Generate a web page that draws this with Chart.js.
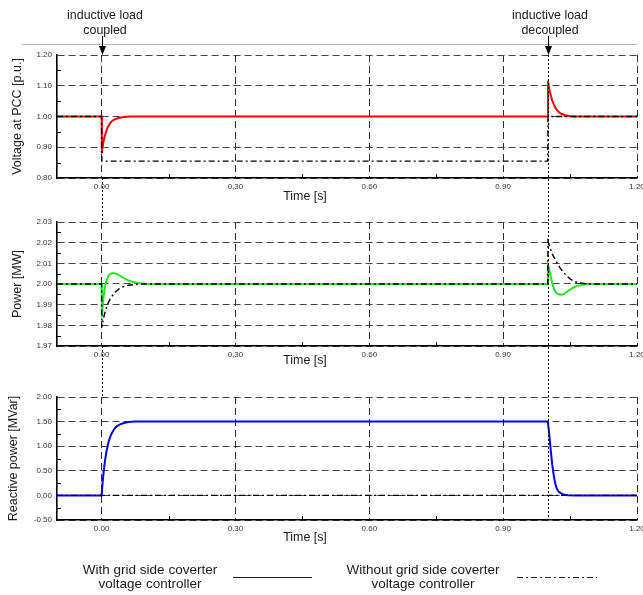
<!DOCTYPE html>
<html><head><meta charset="utf-8">
<script src="https://cdn.jsdelivr.net/npm/chart.js@4.4.0/dist/chart.umd.min.js"></script>
<style>
html,body{margin:0;padding:0;background:#fff;}
#wrap{position:relative;width:643px;height:595px;overflow:hidden;font-family:"Liberation Sans",Arial,sans-serif;color:#1a1a1a;}
#wrap canvas{position:absolute;left:0;}
.t{position:absolute;transform:translate(-50%,-50%);white-space:nowrap;text-align:center;line-height:1;}
</style></head><body>
<div id="wrap">
<canvas id="c1"></canvas>
<canvas id="c2"></canvas>
<canvas id="c3"></canvas>
<canvas id="ov" width="643" height="595" style="top:0"></canvas>
<div class="t" style="left:105px;top:15px;font-size:12.4px">inductive load</div>
<div class="t" style="left:105px;top:30px;font-size:12.4px">coupled</div>
<div class="t" style="left:550px;top:15px;font-size:12.4px">inductive load</div>
<div class="t" style="left:550px;top:30px;font-size:12.4px">decoupled</div>
<div class="t" style="left:305px;top:196px;font-size:12.4px">Time [s]</div>
<div class="t" style="left:305px;top:360px;font-size:12.4px">Time [s]</div>
<div class="t" style="left:305px;top:537px;font-size:12.4px">Time [s]</div>
<div class="t" style="left:150px;top:570px;font-size:13.5px">With grid side coverter</div>
<div class="t" style="left:150px;top:584px;font-size:13.5px">voltage controller</div>
<div class="t" style="left:423px;top:570px;font-size:13.5px">Without grid side coverter</div>
<div class="t" style="left:423px;top:584px;font-size:13.5px">voltage controller</div>
</div>
<script>
// ---------- DATA ----------
const xTicks = [0.00, 0.30, 0.60, 0.90, 1.20];
const xMinor = [0.15, 0.45, 0.75, 1.05];
const eventTimes = [0.00, 1.00];

const voltTicks = [0.80, 0.90, 1.00, 1.10, 1.20];
const voltMinor = [0.85, 0.95, 1.05, 1.15];
const powTicks = [1.97, 1.98, 1.99, 2.00, 2.01, 2.02, 2.03];
const powMinor = [1.975, 1.985, 1.995, 2.005, 2.015, 2.025];
const reacTicks = [-0.50, 0.00, 0.50, 1.00, 1.50, 2.00];
const reacMinor = [-0.25, 0.25, 0.75, 1.25, 1.75];

// Voltage at PCC, with controller (red)
const tVoltWith = [-0.10, 0.000, 0.0005, 0.002, 0.004, 0.006, 0.008, 0.010, 0.013, 0.016, 0.020, 0.025, 0.030, 0.040, 0.050, 0.065, 1.000, 1.0005, 1.003, 1.006, 1.010, 1.015, 1.020, 1.025, 1.030, 1.040, 1.050, 1.060, 1.200];
const voltWith  = [1.000, 1.000, 0.880, 0.900, 0.917, 0.930, 0.941, 0.950, 0.962, 0.971, 0.980, 0.987, 0.991, 0.996, 0.998, 1.000, 1.000, 1.116, 1.092, 1.072, 1.052, 1.034, 1.022, 1.014, 1.009, 1.004, 1.001, 1.000, 1.000];
// Voltage at PCC, without controller (black dash-dot)
const tVoltWithout = [-0.10, 0.000, 0.0005, 1.000, 1.0005, 1.200];
const voltWithout  = [1.000, 1.000, 0.855, 0.855, 1.000, 1.000];

// Power, with controller (green)
const tPowWith = [-0.10, 0.000, 0.0005, 0.002, 0.004, 0.007, 0.010, 0.015, 0.020, 0.027, 0.035, 0.045, 0.055, 0.065, 0.080, 0.100, 0.120, 1.000, 1.0005, 1.003, 1.006, 1.010, 1.015, 1.020, 1.027, 1.035, 1.045, 1.055, 1.065, 1.080, 1.100, 1.200];
const powWith  = [2.0000, 2.0000, 1.9840, 1.9880, 1.9930, 1.9980, 2.0010, 2.0040, 2.0050, 2.0053, 2.0048, 2.0035, 2.0022, 2.0013, 2.0005, 2.0001, 2.0000, 2.0000, 2.0092, 2.0075, 2.0040, 2.0005, 1.9970, 1.9955, 1.9948, 1.9950, 1.9965, 1.9980, 1.9990, 1.9997, 2.0000, 2.0000];
// Power, without controller (black dash-dot)
const tPowWithout = [-0.10, 0.000, 0.0005, 0.003, 0.006, 0.010, 0.015, 0.020, 0.030, 0.040, 0.050, 0.060, 0.080, 0.100, 1.000, 1.0005, 1.003, 1.006, 1.010, 1.015, 1.020, 1.030, 1.040, 1.050, 1.060, 1.070, 1.085, 1.100, 1.200];
const powWithout  = [2.0000, 2.0000, 1.9790, 1.9820, 1.9850, 1.9880, 1.9910, 1.9932, 1.9960, 1.9978, 1.9988, 1.9994, 1.9999, 2.0000, 2.0000, 2.0205, 2.0190, 2.0170, 2.0145, 2.0125, 2.0105, 2.0070, 2.0045, 2.0025, 2.0012, 2.0006, 2.0001, 2.0000, 2.0000];

// Reactive power, with controller (blue)
const tReacWith = [-0.10, 0.000, 0.002, 0.004, 0.006, 0.008, 0.010, 0.013, 0.016, 0.020, 0.025, 0.030, 0.035, 0.040, 0.050, 0.060, 0.075, 1.000, 1.002, 1.004, 1.006, 1.008, 1.010, 1.013, 1.016, 1.020, 1.025, 1.030, 1.035, 1.045, 1.060, 1.200];
const reacWith  = [0.00, 0.00, 0.24, 0.43, 0.59, 0.73, 0.85, 0.99, 1.10, 1.21, 1.30, 1.37, 1.41, 1.44, 1.47, 1.49, 1.50, 1.50, 1.36, 1.17, 0.98, 0.80, 0.63, 0.43, 0.27, 0.14, 0.07, 0.04, 0.02, 0.005, 0.00, 0.00];
// Reactive power, without controller (black dash-dot)
const tReacWithout = [-0.10, 1.20];
const reacWithout  = [0.00, 0.00];

// ---------- STYLE / LAYOUT ----------
const FONT = '"Liberation Sans", Arial, sans-serif';
const DASHDOT = [6, 3, 2, 3];
const GRIDDASH = [7, 4];
const pts = (ts, vs) => ts.map((t, i) => ({x: t, y: vs[i]}));

const minorTickPlugin = {
  id: 'minorTicks',
  afterDatasetsDraw(chart, args, opts) {
    const {ctx, chartArea: a, scales: {x, y}} = chart;
    ctx.save();
    ctx.strokeStyle = '#000';
    ctx.lineWidth = 1;
    ctx.beginPath();
    (opts.x || []).forEach(v => { const px = Math.round(x.getPixelForValue(v)) + 0.5; ctx.moveTo(px, a.bottom); ctx.lineTo(px, a.bottom - 4); });
    (opts.y || []).forEach(v => { const py = Math.round(y.getPixelForValue(v)) + 0.5; ctx.moveTo(a.left, py); ctx.lineTo(a.left + 4, py); });
    ctx.stroke();
    ctx.restore();
  }
};

function makePanel(id, area, cfg) {
  const cv = document.getElementById(id);
  const padTop = 10, xAxisH = 22;
  cv.width = 643;
  cv.height = padTop + (area.bottom - area.top) + xAxisH;
  cv.style.top = (area.top - padTop) + 'px';
  return new Chart(cv, {
    type: 'line',
    data: {
      datasets: [
        {data: cfg.without, borderColor: '#000', borderWidth: 1.4, borderDash: DASHDOT, pointRadius: 0, tension: 0, fill: false},
        {data: cfg.with, borderColor: cfg.color, borderWidth: 2, pointRadius: 0, tension: 0, fill: false}
      ]
    },
    options: {
      responsive: false, animation: false, devicePixelRatio: 1,
      layout: {padding: {top: padTop, right: 6, left: 0, bottom: 0}, autoPadding: false},
      plugins: {legend: {display: false}, tooltip: {enabled: false}, minorTicks: {x: xMinor, y: cfg.minor}},
      scales: {
        x: {
          type: 'linear', min: -0.10, max: 1.20,
          afterBuildTicks: s => { s.ticks = xTicks.map(v => ({value: v})); },
          afterFit: s => { s.height = xAxisH; s.paddingLeft = 0; s.paddingRight = 0; },
          ticks: {font: {family: FONT, size: 8}, color: '#333', padding: 4, maxRotation: 0, autoSkip: false, callback: v => Number(v).toFixed(2)},
          grid: {color: '#2e2e2e', lineWidth: 1, drawTicks: false},
          border: {display: true, color: '#000', width: 1.6, dash: GRIDDASH}
        },
        y: {
          type: 'linear', min: cfg.ticks[0], max: cfg.ticks[cfg.ticks.length - 1],
          afterBuildTicks: s => { s.ticks = cfg.ticks.map(v => ({value: v})); },
          afterFit: s => { s.width = 57; s.paddingTop = 0; s.paddingBottom = 0; },
          ticks: {font: {family: FONT, size: 8}, color: '#333', padding: 5, autoSkip: false, callback: v => Number(v).toFixed(2)},
          grid: {color: '#444', lineWidth: 1, drawTicks: false},
          border: {display: true, color: '#000', width: 1.6, dash: GRIDDASH},
          title: {display: true, text: cfg.title, font: {family: FONT, size: 12.5}, color: '#1a1a1a', padding: {top: cfg.titlePad, bottom: 0}}
        }
      }
    },
    plugins: [minorTickPlugin]
  });
}

const ch1 = makePanel('c1', {top: 55, bottom: 178}, {
  with: pts(tVoltWith, voltWith), without: pts(tVoltWithout, voltWithout), color: '#ff0000',
  ticks: voltTicks, minor: voltMinor, title: 'Voltage at PCC [p.u.]', titlePad: 10.5});
const ch2 = makePanel('c2', {top: 222, bottom: 346}, {
  with: pts(tPowWith, powWith), without: pts(tPowWithout, powWithout), color: '#22e822',
  ticks: powTicks, minor: powMinor, title: 'Power [MW]', titlePad: 10.5});
const ch3 = makePanel('c3', {top: 397, bottom: 520}, {
  with: pts(tReacWith, reacWith), without: pts(tReacWithout, reacWithout), color: '#0000ff',
  ticks: reacTicks, minor: reacMinor, title: 'Reactive power [MVar]', titlePad: 6.5});

// ---------- OVERLAY (event markers, separators, legend samples) ----------
(function drawOverlay() {
  const ov = document.getElementById('ov');
  const ctx = ov.getContext('2d');
  const off = c => parseFloat(c.canvas.style.top);
  const p1Top = off(ch1) + ch1.chartArea.top, p1Bot = off(ch1) + ch1.chartArea.bottom;
  const p2Top = off(ch2) + ch2.chartArea.top, p2Bot = off(ch2) + ch2.chartArea.bottom;
  const p3Top = off(ch3) + ch3.chartArea.top, p3Bot = off(ch3) + ch3.chartArea.bottom;

  // light separator line under annotations
  ctx.strokeStyle = '#b8b8b8'; ctx.lineWidth = 1;
  ctx.beginPath(); ctx.moveTo(22, 44.5); ctx.lineTo(ch1.chartArea.right, 44.5); ctx.stroke();

  eventTimes.forEach((t, i) => {
    const x = Math.round(ch1.scales.x.getPixelForValue(t)) + 0.5;
    // arrow
    ctx.strokeStyle = '#000'; ctx.lineWidth = 1; ctx.setLineDash([]);
    ctx.beginPath(); ctx.moveTo(x, 36); ctx.lineTo(x, p1Top - 7); ctx.stroke();
    ctx.fillStyle = '#000';
    ctx.beginPath(); ctx.moveTo(x, p1Top); ctx.lineTo(x - 3.5, p1Top - 9); ctx.lineTo(x + 3.5, p1Top - 9); ctx.closePath(); ctx.fill();
    // dotted event line
    ctx.setLineDash([2, 2]); ctx.lineWidth = 1;
    ctx.beginPath();
    if (i === 0) {
      ctx.moveTo(x, p1Bot); ctx.lineTo(x, p2Top);
      ctx.moveTo(x, p2Bot); ctx.lineTo(x, p3Top);
    } else {
      ctx.moveTo(x, p1Top); ctx.lineTo(x, p3Bot);
    }
    ctx.stroke();
  });

  // legend samples
  ctx.setLineDash([]); ctx.strokeStyle = '#222'; ctx.lineWidth = 1;
  ctx.beginPath(); ctx.moveTo(233, 577.5); ctx.lineTo(312, 577.5); ctx.stroke();
  ctx.setLineDash(DASHDOT);
  ctx.beginPath(); ctx.moveTo(517, 577.5); ctx.lineTo(597, 577.5); ctx.stroke();
  ctx.setLineDash([]);
})();
</script>
</body></html>
